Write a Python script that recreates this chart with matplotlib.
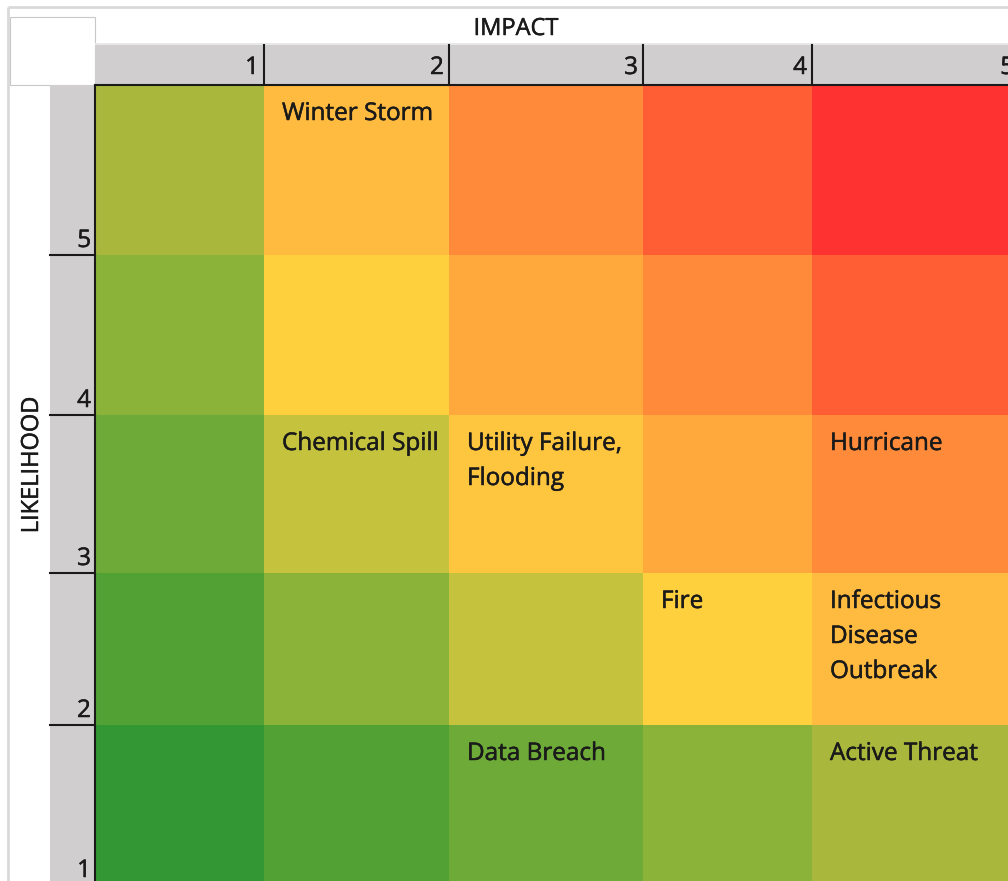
import matplotlib
matplotlib.use("Agg")
import matplotlib.pyplot as plt
from matplotlib.patches import Rectangle
import matplotlib.patheffects as pe

# ---------------- data ----------------
impact_labels = ["1", "2", "3", "4", "5"]
likelihood_labels = ["5", "4", "3", "2", "1"]          # top to bottom
# risk level of each cell (rows: likelihood 5..1, cols: impact 1..5)
risk_level = [
    [4, 8, 10, 11, 12],
    [3, 7, 9, 10, 11],
    [2, 5, 6, 9, 10],
    [1, 3, 5, 7, 8],
    [0, 1, 2, 3, 4],
]
level_colors = ["#339733", "#52A135", "#6DAA38", "#8BB33A", "#A9B83C",
                "#C5C33E", "#FEC63F", "#FFD03E", "#FFBA40", "#FFA83C",
                "#FF8B3A", "#FF5E35", "#FF3232"]
risk_names = ["Winter Storm", "Chemical Spill", "Utility Failure,\nFlooding",
              "Hurricane", "Fire", "Infectious\nDisease\nOutbreak",
              "Data Breach", "Active Threat"]
risk_likelihood = [5, 3, 3, 3, 2, 2, 1, 1]
risk_impact = [2, 2, 3, 5, 4, 5, 3, 5]

# ---------------- layout (pixels) ----------------
W, H = 1008, 881
col_edges = [95, 264, 449, 643, 812, 1019]
row_edges = [85, 255, 415, 573, 725, 885]
FONT = "Open Sans"
FS = 17.5
GRAY = "#D0CECE"
LW = 1.5
TXT = "#1A1A1A"
EFF = [pe.withStroke(linewidth=0.35, foreground=TXT)]

fig = plt.figure(figsize=(W / 100, H / 100), dpi=100)
ax = fig.add_axes([0, 0, 1, 1])
ax.set_xlim(0, W)
ax.set_ylim(H, 0)
ax.axis("off")

# outer light frame
ax.plot([8, W], [7, 7], color="#D9D9D9", lw=2, solid_capstyle="butt")
ax.plot([8, 8], [7, H], color="#D9D9D9", lw=2, solid_capstyle="butt")

# top-left white box
ax.add_patch(Rectangle((9.5, 17), 85.5, 68, facecolor="white",
                       edgecolor="#C8C8C8", lw=0.8))

# header bands
ax.add_patch(Rectangle((95, 43), W - 95, 2, facecolor="#E8E8E8", edgecolor="none"))
ax.add_patch(Rectangle((95, 45), W - 95, 40, facecolor=GRAY, edgecolor="none"))
ax.add_patch(Rectangle((50, 85), 45, H - 85, facecolor=GRAY, edgecolor="none"))

# cells
for r in range(5):
    for c in range(5):
        x0, x1 = col_edges[c], col_edges[c + 1]
        y0, y1 = row_edges[r], row_edges[r + 1]
        ax.add_patch(Rectangle((x0, y0), x1 - x0, y1 - y0,
                               facecolor=level_colors[risk_level[r][c]],
                               edgecolor="none"))

# header dividers and labels
for c, lab in enumerate(impact_labels):
    xr = col_edges[c + 1]
    if c < 4:
        ax.plot([xr, xr], [45, 85], color=TXT, lw=LW)
    ax.text(xr - 5, 68, lab, ha="right", va="center", fontsize=FS,
            family=FONT, color=TXT, path_effects=EFF)
for r, lab in enumerate(likelihood_labels):
    yb = row_edges[r + 1]
    if r < 4:
        ax.plot([50, 95], [yb, yb], color=TXT, lw=LW)
    ax.text(91, yb - 14, lab, ha="right", va="center", fontsize=FS,
            family=FONT, color=TXT, path_effects=EFF)

# grid border lines
ax.plot([95, W], [85, 85], color=TXT, lw=LW)
ax.plot([95, 95], [85, H], color=TXT, lw=LW)

# axis titles
ax.text(516, 29, "IMPACT", ha="center", va="center", fontsize=FS - 0.5,
        family=FONT, color=TXT, path_effects=EFF)
ax.text(32, 465, "LIKELIHOOD", ha="center", va="center", fontsize=FS - 0.5,
        rotation=90, family=FONT, color=TXT, path_effects=EFF)

# risk labels
for name, lk, im in zip(risk_names, risk_likelihood, risk_impact):
    r = likelihood_labels.index(str(lk))
    c = impact_labels.index(str(im))
    x0 = col_edges[c] + 18
    y0 = row_edges[r] + 29
    for i, line in enumerate(name.split("\n")):
        ax.text(x0, y0 + 35 * i, line, ha="left", va="center",
                fontsize=FS, family=FONT, color=TXT, path_effects=EFF)

fig.savefig("out.png", dpi=100)
